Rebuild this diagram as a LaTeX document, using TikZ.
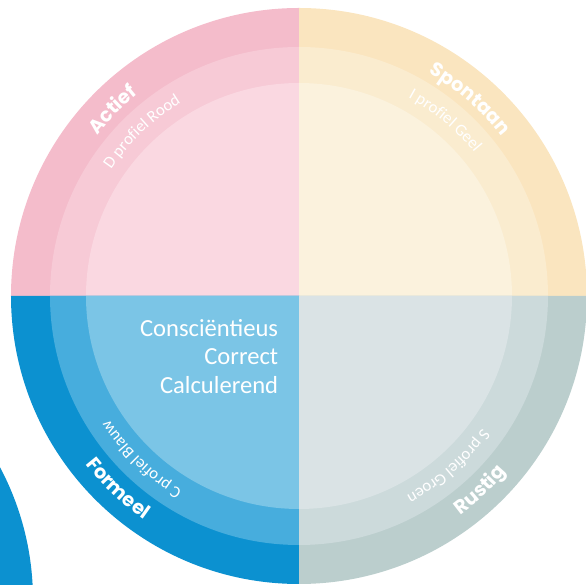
\documentclass[tikz,border=0pt]{standalone}
\usepackage{fontspec}
\setmainfont{Carlito}
\newfontfamily\headfont{Poppins}
\usetikzlibrary{decorations.text}
\definecolor{roodA}{HTML}{F4BCCB}
\definecolor{roodB}{HTML}{F7CAD6}
\definecolor{roodC}{HTML}{FAD8E1}
\definecolor{geelA}{HTML}{FAE5BF}
\definecolor{geelB}{HTML}{FAECCF}
\definecolor{geelC}{HTML}{FBF2DD}
\definecolor{blauwA}{HTML}{0C91D0}
\definecolor{blauwB}{HTML}{47ADDD}
\definecolor{blauwC}{HTML}{7BC5E6}
\definecolor{groenA}{HTML}{BBCECD}
\definecolor{groenB}{HTML}{CCDADB}
\definecolor{groenC}{HTML}{DAE3E5}
\tikzset{
  kerntekst/.style={text=white, inner sep=0pt, anchor=base east, font=\fontsize{14}{16}\selectfont},
  typelabel/.style={decorate, decoration={text along path, text align=center, text color=white,
    text={|\headfont\bfseries\fontsize{11}{13}\selectfont|#1}}},
  profiellabel/.style={decorate, decoration={text along path, text align=center, text color=white,
    text={|\fontsize{9.5}{11}\selectfont|#1}}}
}
\begin{document}
\begin{tikzpicture}
  \useasboundingbox (-5.98,-5.78) rectangle (5.74,5.92);
  \clip (-5.98,-5.78) rectangle (5.74,5.92);
  \fill[blauwA] (-10.98,-6.08) circle (5.66);
  \fill[roodA] (0,0) -- (90:5.76) arc (90:180:5.76) -- cycle;
  \fill[roodB] (0,0) -- (90:4.98) arc (90:180:4.98) -- cycle;
  \fill[roodC] (0,0) -- (90:4.26) arc (90:180:4.26) -- cycle;
  \fill[geelA] (0,0) -- (0:5.76) arc (0:90:5.76) -- cycle;
  \fill[geelB] (0,0) -- (0:4.98) arc (0:90:4.98) -- cycle;
  \fill[geelC] (0,0) -- (0:4.26) arc (0:90:4.26) -- cycle;
  \fill[blauwA] (0,0) -- (180:5.76) arc (180:270:5.76) -- cycle;
  \fill[blauwB] (0,0) -- (180:4.98) arc (180:270:4.98) -- cycle;
  \fill[blauwC] (0,0) -- (180:4.26) arc (180:270:4.26) -- cycle;
  \fill[groenA] (0,0) -- (270:5.76) arc (270:360:5.76) -- cycle;
  \fill[groenB] (0,0) -- (270:4.98) arc (270:360:4.98) -- cycle;
  \fill[groenC] (0,0) -- (270:4.26) arc (270:360:4.26) -- cycle;
  \node[kerntekst] (consc) at (-0.41,-0.81) {Consciëntieus};
  \node[kerntekst] (corr) at (-0.41,-1.38) {Correct};
  \node[kerntekst] (calc) at (-0.41,-1.95) {Calculerend};
  \path[typelabel={Actief}] (155:5.16) arc (155:115:5.16);
  \path[typelabel={Spontaan}] (69:5.16) arc (69:29:5.16);
  \path[typelabel={Formeel}] (206.8:5.44) arc (206.8:246.8:5.44);
  \path[typelabel={Rustig}] (293:5.44) arc (293:333:5.44);
  \path[profiellabel={D profiel Rood}] (153.7:4.53) arc (153.7:113.7:4.53);
  \path[profiellabel={I profiel Geel}] (70.2:4.53) arc (70.2:30.2:4.53);
  \path[profiellabel={C profiel Blauw}] (246:4.53) arc (246:206:4.53);
  \path[profiellabel={S profiel Groen}] (331.2:4.53) arc (331.2:291.2:4.53);
\end{tikzpicture}
\end{document}
